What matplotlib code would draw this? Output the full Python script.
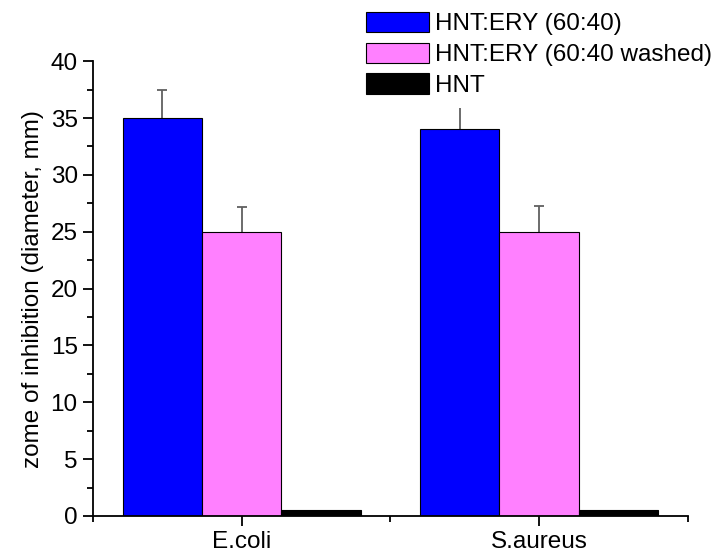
import numpy as np
import matplotlib.pyplot as plt

plt.rcParams['font.family'] = ['Liberation Sans', 'DejaVu Sans']

categories = ["E.coli", "S.aureus"]
series = ["HNT:ERY (60:40)", "HNT:ERY (60:40 washed)", "HNT"]
values = [[35, 34], [25, 25], [0.5, 0.5]]
errors = [[2.5, 2.5], [2.2, 2.3], [0, 0]]
colors = ["#0000FF", "#FF80FF", "#000000"]

fig = plt.figure(figsize=(7.18, 5.56), dpi=100)
ax = fig.add_axes([0.1295, 0.072, 0.8285, 0.818])

x = np.arange(1, len(categories) + 1)
w = 0.8 / 3
for i, (name, v, e, c) in enumerate(zip(series, values, errors, colors)):
    pos = x + (i - 1) * w
    ax.bar(pos, v, w, color=c, edgecolor="black", linewidth=0.8, label=name, zorder=2)
    if any(e):
        # symmetric bars drawn behind, the lower half is hidden by the bar
        ax.errorbar(pos, v, yerr=e, fmt="none", ecolor="#606060",
                    elinewidth=1.3, capsize=3.6, capthick=1.3, zorder=1)

ax.set_xlim(0.5, 2.5)
ax.set_ylim(0, 40)
ax.set_xticks(x)
ax.set_xticklabels(categories)
ax.set_xticks([0.5, 1.5, 2.5], minor=True)
ax.set_yticks(np.arange(0, 41, 5))
ax.set_yticks(np.arange(2.5, 40, 5), minor=True)
ax.set_ylabel("zome of inhibition (diameter, mm)", fontsize=17.5, labelpad=5)

ax.spines["top"].set_visible(False)
ax.spines["right"].set_visible(False)
for s in ["left", "bottom"]:
    ax.spines[s].set_linewidth(1.3)
ax.tick_params(which="major", length=7, width=1.3, labelsize=17.5, pad=4)
ax.tick_params(which="minor", length=4.5, width=1.3)

leg = ax.legend(loc="upper left", bbox_to_anchor=(355 / 718, 1 - 1 / 556),
                bbox_transform=fig.transFigure, fontsize=17.5, frameon=True,
                facecolor="white", edgecolor="none", framealpha=1, fancybox=False,
                borderpad=0.45, borderaxespad=0, handlelength=2.6, handleheight=0.9,
                handletextpad=0.25, labelspacing=0.3)

fig.savefig("out.png", dpi=100)
